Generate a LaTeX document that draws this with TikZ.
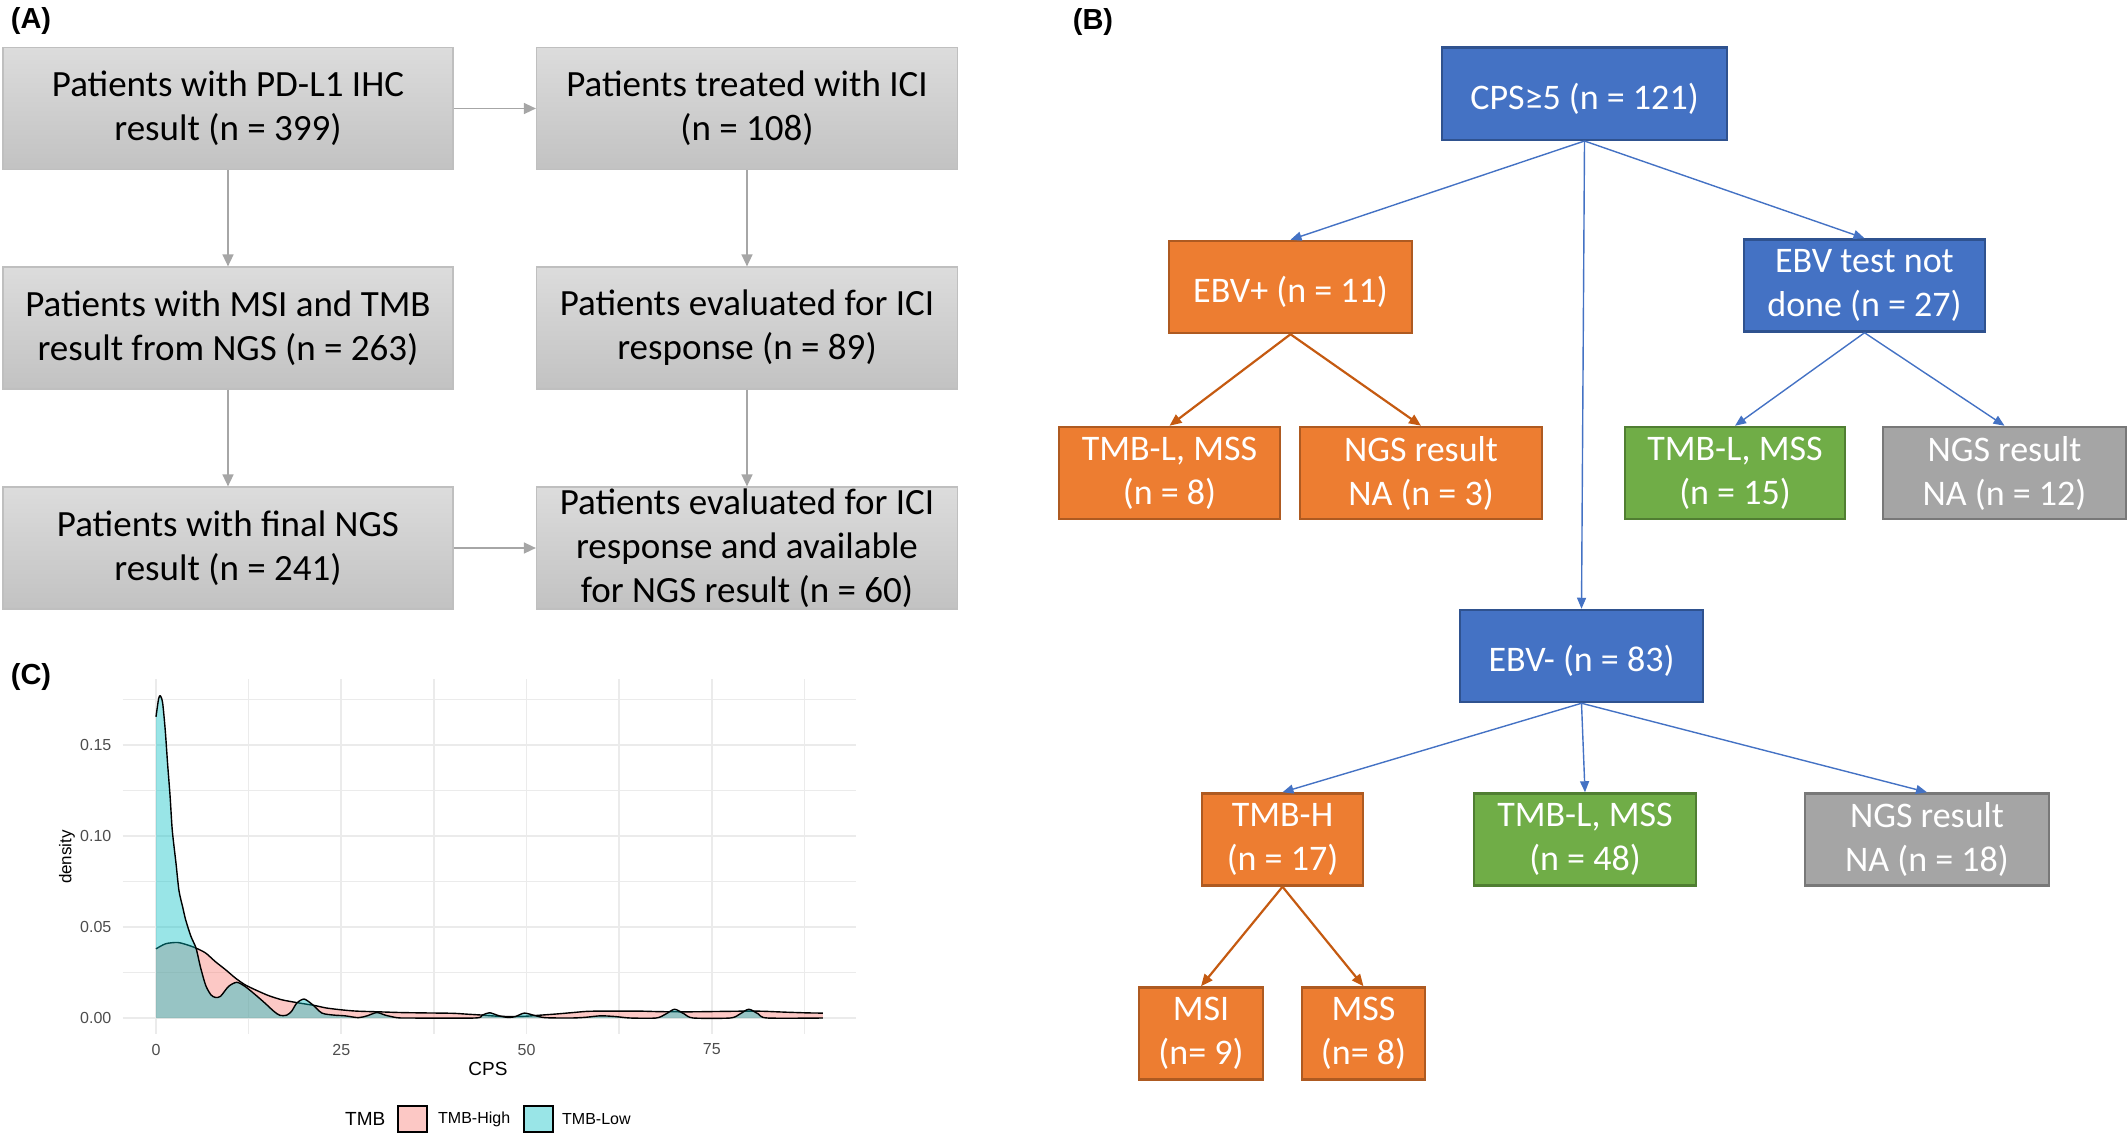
\documentclass[tikz,border=0pt]{standalone}
\usepackage{fontspec}
\setmainfont{Carlito}
\newfontfamily\plotfont{Liberation Sans}
\usetikzlibrary{arrows.meta}
\definecolor{aline}{HTML}{A6A6A6}
\definecolor{aborder}{HTML}{BFBFBF}
\definecolor{atop}{HTML}{DCDCDC}
\definecolor{abot}{HTML}{C2C2C2}
\definecolor{bluefill}{HTML}{4472C4}
\definecolor{blueline}{HTML}{2F528F}
\definecolor{orfill}{HTML}{ED7D31}
\definecolor{orline}{HTML}{AE5A21}
\definecolor{orarrow}{HTML}{C55A11}
\definecolor{grfill}{HTML}{70AD47}
\definecolor{grline}{HTML}{507E32}
\definecolor{gyfill}{HTML}{A5A5A5}
\definecolor{gyline}{HTML}{787878}
\definecolor{pinkc}{HTML}{F8766D}
\definecolor{cyanc}{HTML}{00BFC4}
\definecolor{gridc}{HTML}{EBEBEB}
\definecolor{tickc}{HTML}{4D4D4D}
\tikzset{
  abox/.style={draw=aborder, line width=1.2pt, top color=atop, bottom color=abot,
    minimum width=#1, minimum height=122pt, inner sep=0pt, align=center,
    font=\fontsize{37}{44}\selectfont, execute at begin node={\rule{0pt}{37pt}}},
  bbase/.style={line width=2.5pt, text=white, inner sep=0pt, minimum height=92pt,
    minimum width=#1, align=center, font=\fontsize{36}{44}\selectfont,
    execute at begin node={\rule{0pt}{36pt}}},
  bblue/.style={bbase=#1, fill=bluefill, draw=blueline},
  borange/.style={bbase=#1, fill=orfill, draw=orline},
  bgreen/.style={bbase=#1, fill=grfill, draw=grline},
  bgray/.style={bbase=#1, fill=gyfill, draw=gyline},
  garrow/.style={draw=aline, line width=1.5pt, -{Triangle[length=12pt,width=11pt]}},
  barrow/.style={draw=bluefill, line width=1.4pt, -{Triangle[length=11pt,width=9pt]}},
  oarrow/.style={draw=orarrow, line width=2.2pt, -{Triangle[length=12pt,width=10pt]}},
  panellab/.style={font=\plotfont\bfseries\fontsize{29}{34}\selectfont, inner sep=0pt},
  ticklab/.style={font=\plotfont\fontsize{16}{19}\selectfont, text=tickc, inner sep=0pt},
  axtitle/.style={font=\plotfont\fontsize{#1}{22}\selectfont, inner sep=0pt},
  leglab/.style={font=\plotfont\fontsize{16}{19}\selectfont, inner sep=0pt},
  gridmaj/.style={draw=gridc, line width=1.8pt},
  gridmin/.style={draw=gridc, line width=1.4pt},
  curve/.style={draw=black, line width=1.4pt, line join=round},
}
\begin{document}
\begin{tikzpicture}[x=1pt,y=-1pt]
\useasboundingbox (0,0) rectangle (2128,1140);

% ---------------- Panel A ----------------
\node[panellab] (labA) at (31,21) {(A)};
\node[abox=450pt] (a1) at (228,108.5) {Patients with PD-L1 IHC\\result (n = 399)};
\node[abox=421pt] (a2) at (747,108.5) {Patients treated with ICI\\(n = 108)};
\node[abox=450pt] (a3) at (228,328) {Patients with MSI and TMB\\result from NGS (n = 263)};
\node[abox=421pt] (a4) at (747,328) {Patients evaluated for ICI\\response (n = 89)};
\node[abox=450pt] (a5) at (228,548) {Patients with final NGS\\result (n = 241)};
\node[abox=421pt] (a6) at (747,548) {Patients evaluated for ICI\\response and available\\for NGS result (n = 60)};
\draw[garrow] (a1.east) -- (a2.west);
\draw[garrow] (a1.south) -- (a3.north);
\draw[garrow] (a3.south) -- (a5.north);
\draw[garrow] (a2.south) -- (a4.north);
\draw[garrow] (a4.south) -- (a6.north);
\draw[garrow] (a5.east) -- (a6.west);

% ---------------- Panel B ----------------
\node[panellab] (labB) at (1093,22) {(B)};
\node[bblue=285pt] (cps) at (1584.5,93.75) {CPS≥5 (n = 121)};
\node[borange=243pt] (ebvp) at (1290.5,287) {EBV+ (n = 11)};
\node[bblue=241pt] (ebvnd) at (1864.5,285.5) {EBV test not\\done (n = 27)};
\node[borange=221pt] (tmbla) at (1169.5,473) {TMB-L, MSS\\(n = 8)};
\node[borange=242pt] (ngsa) at (1421,473) {NGS result\\NA (n = 3)};
\node[bgreen=220pt] (tmblb) at (1735,473) {TMB-L, MSS\\(n = 15)};
\node[bgray=243pt] (ngsb) at (2004.5,473) {NGS result\\NA (n = 12)};
\node[bblue=243pt] (ebvm) at (1581.5,656) {EBV- (n = 83)};
\node[borange=161pt] (tmbh) at (1282.5,839.5) {TMB-H\\(n = 17)};
\node[bgreen=222pt] (tmblc) at (1585,839.5) {TMB-L, MSS\\(n = 48)};
\node[bgray=244pt] (ngsc) at (1927,839.5) {NGS result\\NA (n = 18)};
\node[borange=124pt] (msi) at (1201,1033.5) {MSI\\(n= 9)};
\node[borange=123pt] (mss) at (1363.5,1033.5) {MSS\\(n= 8)};
\draw[barrow] (cps.south) -- (ebvp.north);
\draw[barrow] (cps.south) -- (ebvnd.north);
\draw[barrow] (cps.south) -- (ebvm.north);
\draw[oarrow] (ebvp.south) -- (tmbla.north);
\draw[oarrow] (ebvp.south) -- (ngsa.north);
\draw[barrow] (ebvnd.south) -- (tmblb.north);
\draw[barrow] (ebvnd.south) -- (ngsb.north);
\draw[barrow] (ebvm.south) -- (tmbh.north);
\draw[barrow] (ebvm.south) -- (tmblc.north);
\draw[barrow] (ebvm.south) -- (ngsc.north);
\draw[oarrow] (tmbh.south) -- (msi.north);
\draw[oarrow] (tmbh.south) -- (mss.north);

% ---------------- Panel C ----------------
\node[panellab] (labC) at (31,677) {(C)};
\begin{scope}[shift={(156,1018)}, x=7.41pt, y=1820pt]
  \foreach \v in {0.025,0.075,0.125,0.175} {\draw[gridmin] (-4.5,\v) -- (94.5,\v);}
  \foreach \u in {12.5,37.5,62.5,87.5} {\draw[gridmin] (\u,-0.0088) -- (\u,0.186);}
  \foreach \v in {0,0.05,0.10,0.15} {\draw[gridmaj] (-4.5,\v) -- (94.5,\v);}
  \foreach \u in {0,25,50,75} {\draw[gridmaj] (\u,-0.0088) -- (\u,0.186);}
  % TMB-High
  \fill[pinkc, fill opacity=0.4] (0,0) -- plot[smooth, tension=0.45] coordinates {(0,0.038) (1.3,0.0408) (2.9,0.0415) (4.2,0.0402) (5.4,0.0384) (6.7,0.0357) (8.0,0.031) (9.4,0.0265) (10.7,0.022) (12.0,0.0183) (13.4,0.0155) (15.2,0.0123) (17.0,0.0100) (18.8,0.0086) (20,0.0078) (21.5,0.0068) (23,0.0055) (25,0.0045) (27,0.0038) (30,0.0034) (33,0.0030) (36,0.0028) (40,0.0026) (42,0.0021) (44,0.0016) (46,0.0010) (48,0.0008) (50,0.0010) (52,0.0016) (54,0.0022) (56,0.0029) (58,0.0036) (60,0.0038) (65,0.0038) (68,0.0035) (72,0.0034) (76,0.0036) (80,0.0038) (82,0.0037) (85,0.0032) (88,0.0028) (90,0.0027)} -- (90,0) -- cycle;
  \draw[curve] plot[smooth, tension=0.45] coordinates {(0,0.038) (1.3,0.0408) (2.9,0.0415) (4.2,0.0402) (5.4,0.0384) (6.7,0.0357) (8.0,0.031) (9.4,0.0265) (10.7,0.022) (12.0,0.0183) (13.4,0.0155) (15.2,0.0123) (17.0,0.0100) (18.8,0.0086) (20,0.0078) (21.5,0.0068) (23,0.0055) (25,0.0045) (27,0.0038) (30,0.0034) (33,0.0030) (36,0.0028) (40,0.0026) (42,0.0021) (44,0.0016) (46,0.0010) (48,0.0008) (50,0.0010) (52,0.0016) (54,0.0022) (56,0.0029) (58,0.0036) (60,0.0038) (65,0.0038) (68,0.0035) (72,0.0034) (76,0.0036) (80,0.0038) (82,0.0037) (85,0.0032) (88,0.0028) (90,0.0027)};
  % TMB-Low
  \fill[cyanc, fill opacity=0.4] (0,0) -- plot[smooth, tension=0.45] coordinates {(0,0.1655) (0.36,0.1756) (0.6,0.177) (0.9,0.173) (1.25,0.158) (1.56,0.140) (1.9,0.122) (2.2,0.103) (2.7,0.085) (3.1,0.070) (3.6,0.061) (4.0,0.054) (4.7,0.045) (5.4,0.0384) (6.0,0.028) (6.7,0.018) (7.4,0.0128) (8.0,0.0113) (8.7,0.0119) (9.8,0.0174) (10.9,0.0196) (12.0,0.0174) (13.4,0.0128) (14.7,0.0082) (15.9,0.0037) (16.7,0.0015) (17.6,0.0015) (18.3,0.0037) (19.0,0.0082) (20.0,0.0104) (21.2,0.0071) (22.4,0.0027) (24,0.0016) (25.5,0.0012) (27.3,0.0002) (28.5,0.0012) (29.8,0.003) (31,0.0015) (32.5,0.0002) (34,0) (43,0) (44,0.0015) (45,0.0029) (46.3,0.0012) (47.5,0.0003) (48.5,0.0008) (49.7,0.0027) (51,0.0015) (52.5,0.0002) (56,0) (58,0.0004) (60,0.0012) (62,0.0008) (64,0) (67.5,0) (68.8,0.0022) (70,0.0048) (71.3,0.0022) (72.5,0) (77.5,0) (78.8,0.0022) (80,0.0048) (81.3,0.0022) (82.5,0) (90,0)} -- (90,0) -- cycle;
  \draw[curve] plot[smooth, tension=0.45] coordinates {(0,0.1655) (0.36,0.1756) (0.6,0.177) (0.9,0.173) (1.25,0.158) (1.56,0.140) (1.9,0.122) (2.2,0.103) (2.7,0.085) (3.1,0.070) (3.6,0.061) (4.0,0.054) (4.7,0.045) (5.4,0.0384) (6.0,0.028) (6.7,0.018) (7.4,0.0128) (8.0,0.0113) (8.7,0.0119) (9.8,0.0174) (10.9,0.0196) (12.0,0.0174) (13.4,0.0128) (14.7,0.0082) (15.9,0.0037) (16.7,0.0015) (17.6,0.0015) (18.3,0.0037) (19.0,0.0082) (20.0,0.0104) (21.2,0.0071) (22.4,0.0027) (24,0.0016) (25.5,0.0012) (27.3,0.0002) (28.5,0.0012) (29.8,0.003) (31,0.0015) (32.5,0.0002) (34,0) (43,0) (44,0.0015) (45,0.0029) (46.3,0.0012) (47.5,0.0003) (48.5,0.0008) (49.7,0.0027) (51,0.0015) (52.5,0.0002) (56,0) (58,0.0004) (60,0.0012) (62,0.0008) (64,0) (67.5,0) (68.8,0.0022) (70,0.0048) (71.3,0.0022) (72.5,0) (77.5,0) (78.8,0.0022) (80,0.0048) (81.3,0.0022) (82.5,0) (90,0)};
  % tick labels
  \node[ticklab, anchor=east] (yt0) at (-6,0) {0.00};
  \node[ticklab, anchor=east] (yt1) at (-6,0.05) {0.05};
  \node[ticklab, anchor=east] (yt2) at (-6,0.10) {0.10};
  \node[ticklab, anchor=east] (yt3) at (-6,0.15) {0.15};
  \node[ticklab] (xt0) at (0,-0.0173) {0};
  \node[ticklab] (xt1) at (25,-0.0173) {25};
  \node[ticklab] (xt2) at (50,-0.0173) {50};
  \node[ticklab] (xt3) at (75,-0.0173) {75};
\end{scope}
\node[axtitle=19] (xtitle) at (488,1069) {CPS};
\node[axtitle=17, rotate=90] (ytitle) at (67,857) {density};
% legend
\node[axtitle=19, anchor=west] (legt) at (345,1119) {TMB};
\draw[line width=1.3pt, fill=pinkc!40!white] (398,1106) rectangle (427,1132);
\node[leglab, anchor=west] (leghigh) at (438,1119) {TMB-High};
\draw[line width=1.3pt, fill=cyanc!40!white] (524,1106) rectangle (553,1132);
\node[leglab, anchor=west] (leglow) at (562,1119) {TMB-Low};
\end{tikzpicture}
\end{document}
